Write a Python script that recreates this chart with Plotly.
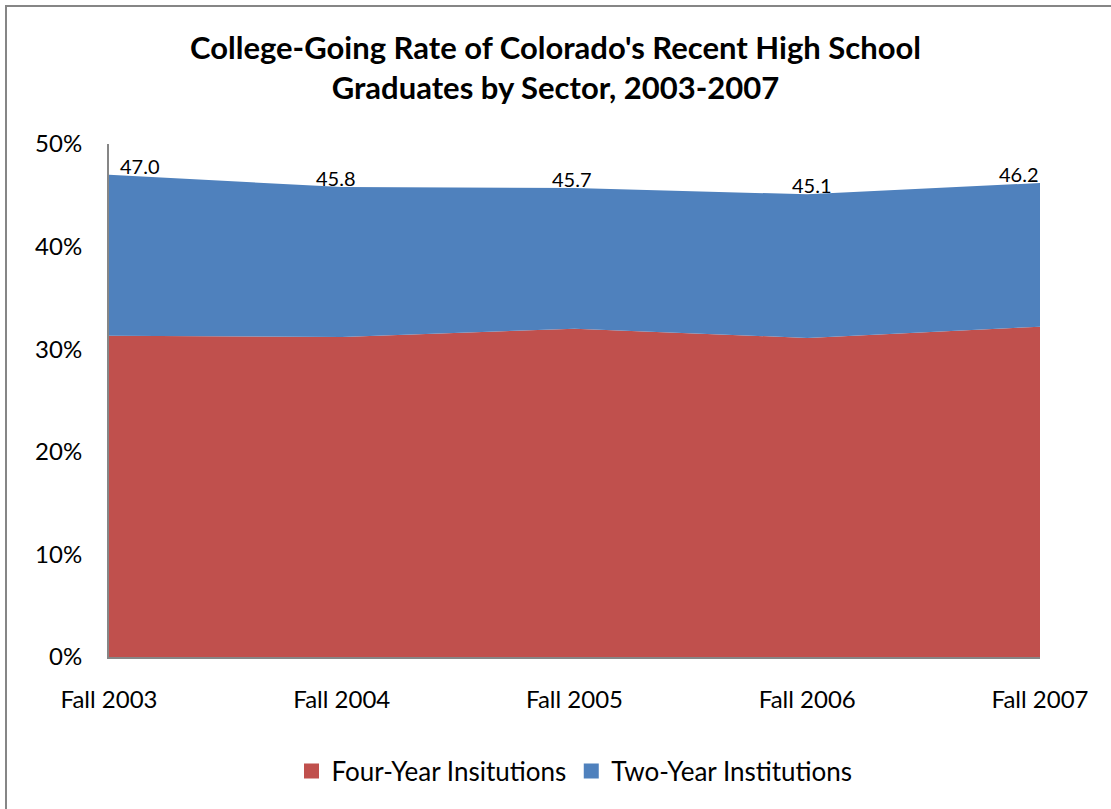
import plotly.graph_objects as go

categories = ["Fall 2003", "Fall 2004", "Fall 2005", "Fall 2006", "Fall 2007"]
four_year = [31.3, 31.2, 32.0, 31.1, 32.2]
totals = [47.0, 45.8, 45.7, 45.1, 46.2]
two_year = [round(t - f, 1) for t, f in zip(totals, four_year)]
label_text = ["47.0", "45.8", "45.7", "45.1", "46.2"]
series_names = ["Four-Year Insitutions", "Two-Year Institutions"]
series_colors = ["#C0504D", "#4F81BD"]

FONT = "Lato, 'Noto Sans', sans-serif"

fig = go.Figure()
for vals, name, col in zip([four_year, two_year], series_names, series_colors):
    fig.add_trace(go.Scatter(
        x=categories, y=vals, name=name, stackgroup="one", mode="none",
        fillcolor=col, line=dict(width=0), showlegend=False,
    ))
for name, col in zip(series_names, series_colors):
    fig.add_trace(go.Scatter(
        x=[None], y=[None], name=name, mode="markers",
        marker=dict(symbol="square", size=15, color=col),
    ))

anchors = ["left", "center", "center", "center", "right"]
xshifts = [9, -6, -3, 5, 1]
for c, t, lab, a, s in zip(categories, totals, label_text, anchors, xshifts):
    fig.add_annotation(
        x=c, y=t, text=lab, showarrow=False, xanchor=a, yanchor="bottom",
        xshift=s, yshift=-5, font=dict(family=FONT, size=20, color="black"),
    )

W, H = 1111, 809
L, R, T, B = 109, 71, 144, 152
pw, ph = W - L - R, H - T - B

fig.update_layout(
    width=W, height=H,
    margin=dict(l=L, r=R, t=T, b=B),
    paper_bgcolor="white", plot_bgcolor="white",
    title=dict(
        text="<b>College-Going Rate of Colorado's Recent High School<br>Graduates by Sector, 2003-2007</b>",
        x=0.5, xanchor="center", yref="container", y=1 - 59 / H, yanchor="top",
        font=dict(family=FONT, size=31, color="black"),
    ),
    showlegend=True,
    legend=dict(
        orientation="h", x=0.5, xanchor="center",
        y=-(771 - 657) / ph, yanchor="middle",
        font=dict(family=FONT, size=26, color="black"), traceorder="normal",
    ),
    xaxis=dict(
        type="category", range=[0, 4], showgrid=False,
        showline=True, linecolor="#868686", linewidth=2,
        ticks="", tickfont=dict(family=FONT, size=24, color="black"),
        ticklabelstandoff=20,
    ),
    yaxis=dict(
        range=[0, 50], tickvals=[0, 10, 20, 30, 40, 50],
        ticktext=["0%", "10%", "20%", "30%", "40%", "50%"],
        showgrid=False, zeroline=False,
        showline=True, linecolor="#868686", linewidth=2,
        ticks="", tickfont=dict(family=FONT, size=24, color="black"),
        ticklabelstandoff=20,
    ),
)

# outer chart border (only top and left edges fall inside the picture)
fig.add_shape(type="rect", xref="paper", yref="paper",
              x0=(6 - L) / pw, x1=1 + (R + 20) / pw,
              y0=-(B + 20) / ph, y1=1 + (T - 6) / ph,
              line=dict(color="#868686", width=2), fillcolor="rgba(0,0,0,0)")

fig.write_html("out.html", config={"displayModeBar": False},
               post_script="document.body.style.margin='0';")
